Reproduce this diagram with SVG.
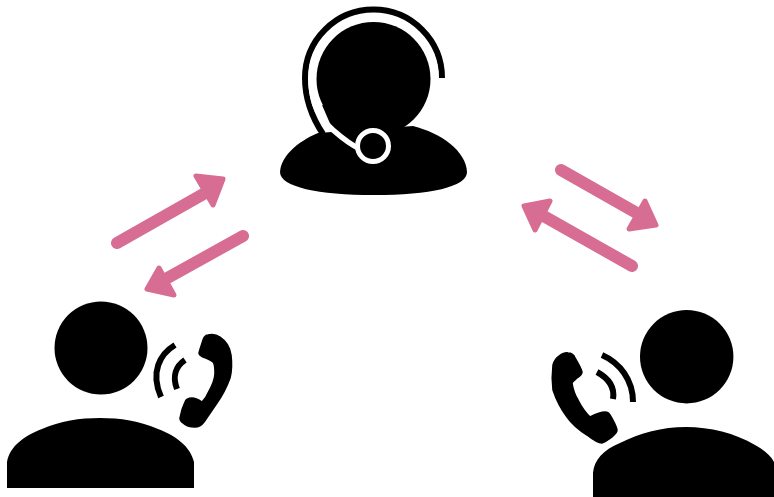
<svg xmlns="http://www.w3.org/2000/svg" width="774" height="497" viewBox="0 0 774 497">
<style>
.k{fill:#000}
.p{fill:#000;stroke:#000;stroke-width:1.500;stroke-linejoin:round}
.w{fill:none;stroke:#000;stroke-width:6;stroke-linecap:butt}
.s{fill:none;stroke:#d76d93;stroke-width:12;stroke-linecap:round}
.h{fill:#d76d93;stroke:#d76d93;stroke-width:5;stroke-linejoin:round}
</style>
<defs><filter id="soft" x="-5%" y="-5%" width="110%" height="110%"><feGaussianBlur stdDeviation="0.6"/></filter></defs>
<rect width="774" height="497" fill="#fff"/>
<g filter="url(#soft)">
<g id="agent">
<path class="k" d="M280 172C281 156 297 142 318 133L413 126C441 133 466 151 467 172C467 187 430 195 374 195C318 195 280 187 280 172Z"/>
<circle class="k" cx="373.500" cy="79" r="57"/>
<polygon class="k" points="322,105 335,135 380,145 405,125"/>
<path d="M442 78A68.500 68.500 0 1 0 305 78C305 96 311 116 323 134" fill="none" stroke="#000" stroke-width="6"/>
<path d="M436 79A62.500 62.500 0 0 0 311 79C311 90 313 101 317 110C321 118 326 124 333 130C341 137 349 144 360 149" fill="none" stroke="#fff" stroke-width="5.500"/>
<circle cx="373" cy="146" r="15.500" fill="#000" stroke="#fff" stroke-width="5"/>
</g>
<g id="caller-left">
<circle class="k" cx="101" cy="348" r="46.500"/>
<path class="k" d="M7 488V462C10 446 24 436 42 429C60 421 80 418 100 418C120 418 140 421 158 429C176 436 190 446 194 462V488Z"/>
<path class="p" d="M208 335C213 334 217 335 220 337C226 341 230 347 231 355C232 363 232 370 230 378C226 389 222 396 217 403L204 422C201 426 198 427 195 427C190 427 186 426 183 423C180 421 180 420 180 418C181 412 183 406 185 402C186 399 189 398 192 398C195 398 199 400 202 402C205 399 207 396 208 393C212 386 215 380 215 373C215 368 215 364 213 362C210 360 207 358 203 357C201 356 199 355 199 353C200 348 202 344 203 340C204 337 206 335 208 335Z"/>
<path class="w" d="M175 345C160 354 150 372 161 397"/>
<path class="w" d="M185 360C176 366 172 376 177 389"/>
</g>
<g id="caller-right">
<circle class="k" cx="686.700" cy="356.700" r="46.700"/>
<path class="k" d="M593 497V473C594 460 603 450 620 443C640 433 662 427 686 427C710 427 735 433 755 445C764 450 771 456 774 462V497Z"/>
<path class="p" d="M553 365C554 361 556 358 559 356C562 354 565 352 568 353C571 353 574 355 575 358C578 363 581 368 582 372C582 375 580 376 577 378C575 380 573 381 572 383C573 390 575 395 578 400C581 406 585 412 590 417C594 415 600 412 605 412C607 412 609 413 610 415C613 420 616 425 617 430C617 433 614 435 612 437C609 439 606 442 602 443C597 443 592 439 587 435C579 430 572 424 567 417C561 409 556 399 553 390C552 382 552 373 553 365Z"/>
<path class="w" d="M602 355C620 363 633 380 633 402"/>
<path class="w" d="M597 372C608 378 615 387 613 399"/>
</g>
</g>
<g id="connectors" filter="url(#soft)">
<path class="s" d="M117 243L207 192"/>
<polygon class="h" points="196,176 223,179 213,205"/>
<path class="s" d="M243 236L162 281"/>
<polygon class="h" points="159,268 147,289 174,295"/>
<path class="s" d="M561 170L642 216"/>
<polygon class="h" points="645,201 656,225 629,229"/>
<path class="s" d="M632 266L540 214"/>
<polygon class="h" points="550,201 524,206 535,230"/>
</g>
</svg>
